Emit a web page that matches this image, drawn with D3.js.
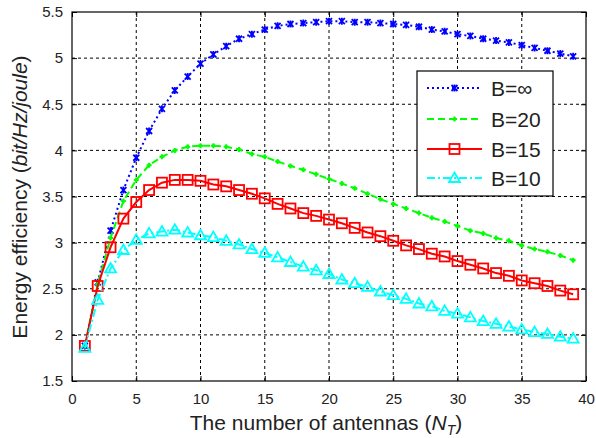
<!DOCTYPE html>
<html><head><meta charset="utf-8">
<script src="https://cdn.jsdelivr.net/npm/d3@7"></script>
<style>body{margin:0;background:#fff}svg{display:block}</style>
</head><body>
<svg id="c" width="596" height="438"></svg>
<script>
const antennas = d3.range(1, 40);
const bInf = [1.88,2.57,3.13,3.57,3.92,4.21,4.45,4.65,4.80,4.94,5.04,5.13,5.21,5.26,5.31,5.35,5.37,5.38,5.39,5.40,5.40,5.39,5.39,5.38,5.37,5.36,5.34,5.31,5.29,5.26,5.24,5.21,5.19,5.17,5.14,5.11,5.08,5.05,5.02];
const b20 = [1.88,2.55,3.05,3.45,3.68,3.84,3.93,4.00,4.04,4.05,4.05,4.04,4.01,3.96,3.93,3.88,3.83,3.79,3.74,3.69,3.64,3.59,3.53,3.47,3.42,3.37,3.32,3.27,3.23,3.18,3.13,3.10,3.05,3.02,2.97,2.93,2.90,2.86,2.81];
const b15 = [1.88,2.53,2.95,3.26,3.44,3.57,3.65,3.68,3.68,3.67,3.63,3.61,3.57,3.53,3.48,3.42,3.37,3.32,3.29,3.25,3.21,3.16,3.11,3.07,3.02,2.97,2.93,2.88,2.85,2.80,2.76,2.72,2.67,2.64,2.59,2.56,2.53,2.48,2.44];
const b10 = [1.86,2.38,2.72,2.92,3.03,3.10,3.12,3.14,3.11,3.08,3.06,3.02,2.98,2.93,2.89,2.84,2.79,2.74,2.70,2.66,2.60,2.56,2.52,2.47,2.43,2.39,2.34,2.31,2.26,2.23,2.19,2.15,2.12,2.09,2.06,2.03,2.01,1.98,1.96];
const xTicks = [0,5,10,15,20,25,30,35,40];
const yTicks = [1.5,2,2.5,3,3.5,4,4.5,5,5.5];
const seriesNames = ["B=\u221e","B=20","B=15","B=10"];

const svg = d3.select("#c");
const L = 72, R = 586, T = 12, B = 381;
const x = d3.scaleLinear().domain([0,40]).range([L,R]);
const y = d3.scaleLinear().domain([1.5,5.5]).range([B,T]);

// grid
const g = svg.append("g");
g.selectAll(".gx").data(xTicks.slice(1,-1)).join("line")
  .attr("x1",d=>x(d)).attr("x2",d=>x(d)).attr("y1",T).attr("y2",B)
  .attr("stroke","#000").attr("stroke-width",1).attr("stroke-dasharray","3,3");
g.selectAll(".gy").data(yTicks.slice(1,-1)).join("line")
  .attr("y1",d=>y(d)).attr("y2",d=>y(d)).attr("x1",L).attr("x2",R)
  .attr("stroke","#000").attr("stroke-width",1).attr("stroke-dasharray","3,3");

// axes
const font = "Arial, 'Liberation Sans', sans-serif";
const ax = svg.append("g").attr("transform",`translate(0,${B})`)
  .call(d3.axisBottom(x).tickValues(xTicks).tickSize(-5).tickPadding(12));
const ay = svg.append("g").attr("transform",`translate(${L},0)`)
  .call(d3.axisLeft(y).tickValues(yTicks).tickSize(-5).tickPadding(9).tickFormat(d3.format("")));
[ax,ay].forEach(a=>{
  a.select(".domain").remove();
  a.selectAll("text").attr("font-family",font).attr("font-size",15).attr("fill","#222");
  a.selectAll("line").attr("stroke","#000");
});
svg.append("g").attr("transform",`translate(0,${T})`).call(d3.axisTop(x).tickValues(xTicks).tickSize(-5).tickFormat(""))
  .call(a=>{a.select(".domain").remove();a.selectAll("line").attr("stroke","#000");});
svg.append("g").attr("transform",`translate(${R},0)`).call(d3.axisRight(y).tickValues(yTicks).tickSize(-5).tickFormat(""))
  .call(a=>{a.select(".domain").remove();a.selectAll("line").attr("stroke","#000");});
svg.append("rect").attr("x",L).attr("y",T).attr("width",R-L).attr("height",B-T)
  .attr("fill","none").attr("stroke","#000").attr("stroke-width",1.2);

// series
const line = d3.line().x((d,i)=>x(antennas[i])).y(d=>y(d));
const styles = [
  {data:bInf,color:"#0000ff",dash:"2,3",marker:"x"},
  {data:b20,color:"#00ff00",dash:"7,4",marker:"dot"},
  {data:b15,color:"#ff0000",dash:null,marker:"square"},
  {data:b10,color:"#00ffff",dash:"8,3,2,3",marker:"tri"}
];
function drawMarker(sel, type, color){
  if(type==="x"){
    sel.append("path").attr("d","M-3,-3L3,3M-3,3L3,-3M0,-3.5L0,3.5").attr("stroke",color).attr("stroke-width",1.8).attr("fill","none");
  } else if(type==="dot"){
    sel.append("path").attr("d","M-2.5,0L2.5,0M0,-2.5L0,2.5").attr("stroke",color).attr("stroke-width",2).attr("fill","none");
    sel.append("circle").attr("r",1.8).attr("fill",color);
  } else if(type==="square"){
    sel.append("rect").attr("x",-5).attr("y",-5).attr("width",10).attr("height",10).attr("fill","none").attr("stroke",color).attr("stroke-width",1.8);
  } else {
    sel.append("path").attr("d","M0,-5.5L5.5,4L-5.5,4Z").attr("fill","none").attr("stroke",color).attr("stroke-width",1.8);
  }
}
styles.forEach(s=>{
  svg.append("path").datum(s.data).attr("d",line).attr("fill","none")
    .attr("stroke",s.color).attr("stroke-width",2).attr("stroke-dasharray",s.dash);
  svg.append("g").selectAll("g").data(s.data).join("g")
    .attr("transform",(d,i)=>`translate(${x(antennas[i])},${y(d)})`)
    .each(function(){drawMarker(d3.select(this),s.marker,s.color);});
});

// legend
const lg = svg.append("g");
lg.append("rect").attr("x",417).attr("y",71).attr("width",136).attr("height",125)
  .attr("fill","#fff").attr("stroke","#000").attr("stroke-width",1.2);
const ly = [88,119,149,178];
styles.forEach((s,i)=>{
  lg.append("line").attr("x1",427).attr("x2",482).attr("y1",ly[i]).attr("y2",ly[i])
    .attr("stroke",s.color).attr("stroke-width",2).attr("stroke-dasharray",s.dash);
  drawMarker(lg.append("g").attr("transform",`translate(454.5,${ly[i]})`), s.marker, s.color);
  lg.append("text").attr("x",491).attr("y",ly[i]+7.5).text(seriesNames[i])
    .attr("font-family",font).attr("font-size",21).attr("fill","#222");
});

// labels
svg.append("text").attr("x",326).attr("y",430).attr("text-anchor","middle")
  .attr("font-family",font).attr("font-size",21).attr("fill","#222")
  .call(t=>{t.append("tspan").text("The number of antennas (");
    t.append("tspan").attr("font-style","italic").text("N");
    t.append("tspan").attr("font-style","italic").attr("font-size",14).attr("dy",5).text("T");
    t.append("tspan").attr("dy",-5).text(")");});
svg.append("text").attr("transform","translate(27,197) rotate(-90)").attr("text-anchor","middle")
  .attr("font-family",font).attr("font-size",21).attr("fill","#222")
  .call(t=>{t.append("tspan").text("Energy efficiency (");
    t.append("tspan").attr("font-style","italic").text("bit/Hz/joule");
    t.append("tspan").text(")");});
</script>
</body></html>
